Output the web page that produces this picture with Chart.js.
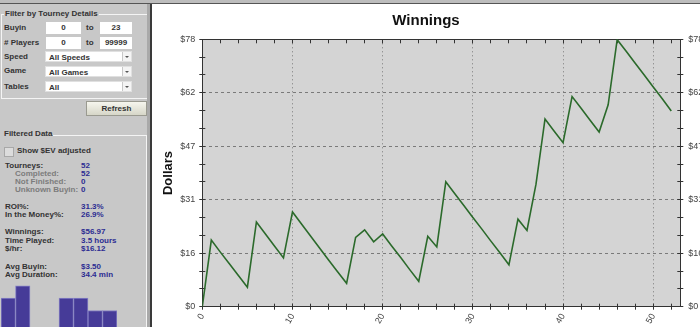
<!DOCTYPE html>
<html>
<head>
<meta charset="utf-8">
<script src="https://cdn.jsdelivr.net/npm/chart.js"></script>
<style>
  html, body { margin: 0; padding: 0; background: #fff; }
  #app {
    position: relative; width: 700px; height: 327px; overflow: hidden; background: #fff;
    font-family: "Liberation Sans", Arial, sans-serif; font-size: 8px; font-weight: bold; color: #333;
  }
  #topbar { position: absolute; left: 0; top: 0; width: 700px; height: 3px; background: #bdbdbd; border-bottom: 1px solid #555; }
  #side { position: absolute; left: 0; top: 4px; width: 147px; height: 323px; background: #c8c8c8; }
  #sideEdge { position: absolute; left: 147px; top: 0; width: 3px; height: 327px; background: #a9a9a9; }
  #sideLine { position: absolute; left: 150px; top: 0; width: 2px; height: 327px; background: #3a3a3a; }
  .fs { position: absolute; border: 1px solid #f4f4f4; }
  .t { position: absolute; line-height: 8px; white-space: nowrap; }
  .lg { background: #c8c8c8; padding: 0 1px; }
  .sub { color: #7c7c7c; }
  .val { color: #2c2c92; }
  .box { position: absolute; height: 12px; background: #fff; line-height: 12px; text-align: center; }
  .sel { position: absolute; height: 11px; background: #fff; line-height: 11px; padding-left: 3px; box-sizing: border-box; border: 1px solid #e0e0e0; }
  .sel .arr { position: absolute; right: 0; top: 0; width: 8px; height: 9px; border-left: 1px solid #c8c8c8; background: #f4f4f4; }
  .sel .arr:after { content: ""; position: absolute; left: 2px; top: 4px; border-left: 2px solid transparent; border-right: 2px solid transparent; border-top: 2px solid #555; }
  #refresh {
    position: absolute; left: 86px; top: 97px; width: 61px; height: 15px; box-sizing: border-box;
    border: 1px solid #9a9a90; background: linear-gradient(#f6f6ee, #d6d6c8); text-align: center; line-height: 13px;
  }
  #chk { position: absolute; left: 4px; top: 143px; width: 8px; height: 8px; background: #dcdcdc; border: 1px solid #a8a8a8; }
  #miniWrap { position: absolute; left: 1px; top: 280px; width: 116px; height: 47px; }
  #chartWrap { position: absolute; left: 152px; top: 4px; width: 548px; height: 323px; }
</style>
</head>
<body>
<div id="app">
  <div id="side">
    <div class="fs" style="left:1px; top:10px; width:145px; height:83px;"></div>
    <div class="t lg" style="left:4px; top:6px;">Filter by Tourney Details</div>
    <div class="t" style="left:4px; top:20px;">Buyin</div>
    <div class="box" style="left:46px; top:18px; width:35px;">0</div>
    <div class="t" style="left:86px; top:20px;">to</div>
    <div class="box" style="left:100px; top:18px; width:32px;">23</div>
    <div class="t" style="left:4px; top:35px;"># Players</div>
    <div class="box" style="left:46px; top:33px; width:35px;">0</div>
    <div class="t" style="left:86px; top:35px;">to</div>
    <div class="box" style="left:100px; top:33px; width:32px;">99999</div>
    <div class="t" style="left:4px; top:49px;">Speed</div>
    <div class="sel" style="left:45px; top:47px; width:87px;">All Speeds<span class="arr"></span></div>
    <div class="t" style="left:4px; top:63px;">Game</div>
    <div class="sel" style="left:45px; top:62px; width:87px;">All Games<span class="arr"></span></div>
    <div class="t" style="left:4px; top:79px;">Tables</div>
    <div class="sel" style="left:45px; top:77px; width:87px;">All<span class="arr"></span></div>
    <div id="refresh">Refresh</div>

    <div class="fs" style="left:1px; top:131px; width:145px; height:200px; border-left:none;"></div>
    <div class="t lg" style="left:1px; top:126px; padding-left:3px;">Filtered Data</div>
    <div id="chk"></div>
    <div class="t" style="left:17px; top:143px;">Show $EV adjusted</div>
    <div class="t" style="left:5px; top:158px;">Tourneys:</div><div class="t val" style="left:81px; top:158px;">52</div>
    <div class="t sub" style="left:15px; top:166px;">Completed:</div><div class="t val" style="left:81px; top:166px;">52</div>
    <div class="t sub" style="left:15px; top:174px;">Not Finished:</div><div class="t val" style="left:81px; top:174px;">0</div>
    <div class="t sub" style="left:15px; top:182px;">Unknown Buyin:</div><div class="t val" style="left:81px; top:182px;">0</div>
    <div class="t" style="left:5px; top:199px;">ROI%:</div><div class="t val" style="left:81px; top:199px;">31.3%</div>
    <div class="t" style="left:5px; top:207px;">In the Money%:</div><div class="t val" style="left:81px; top:207px;">26.9%</div>
    <div class="t" style="left:5px; top:224px;">Winnings:</div><div class="t val" style="left:81px; top:224px;">$56.97</div>
    <div class="t" style="left:5px; top:233px;">Time Played:</div><div class="t val" style="left:81px; top:233px;">3.5 hours</div>
    <div class="t" style="left:5px; top:241px;">$/hr:</div><div class="t val" style="left:81px; top:241px;">$16.12</div>
    <div class="t" style="left:5px; top:259px;">Avg Buyin:</div><div class="t val" style="left:81px; top:259px;">$3.50</div>
    <div class="t" style="left:5px; top:267px;">Avg Duration:</div><div class="t val" style="left:81px; top:267px;">34.4 min</div>
  </div>
  <div id="miniWrap"><canvas id="miniChart" width="116" height="47"></canvas></div>
  <div id="sideEdge"></div>
  <div id="sideLine"></div>
  <div id="topbar"></div>
  <div id="chartWrap"><canvas id="winChart" width="548" height="323"></canvas></div>
</div>

<script>
// cumulative winnings after each tourney (tourney 0 = start)
const winnings = [
  0, 19.4, 15.9, 12.5, 9.1, 5.7, 24.7, 21.2, 17.7, 14.2,
  27.6, 24.1, 20.6, 17.1, 13.6, 10.2, 6.8, 20.2, 22.4, 18.9,
  21.2, 17.7, 14.3, 10.8, 7.4, 20.5, 17.4, 36.4, 32.9, 29.5,
  26.0, 22.6, 19.1, 15.7, 12.2, 25.5, 22.2, 35.7, 54.7, 51.2,
  47.8, 61.2, 57.8, 54.3, 50.9, 58.8, 77.8, 74.4, 70.9, 67.5,
  64.0, 60.6, 57.0
];
const xMax = 53;
const xMinorStep = 2;
const xLabelTicks = [0, 10, 20, 30, 40, 50];
const yMax = 77.9;
const yTickLabels = ['$0', '$16', '$31', '$47', '$62', '$78'];
const yMinorPerMajor = 3;

// small histogram at the bottom of the side panel
const miniLabels = ['1', '2', '3', '4', '5', '6', '7', '8'];
const miniValues = [7, 10, 0, 0, 7, 7, 4, 4];

const xTickValues = [];
for (let v = 0; v < xMax; v += xMinorStep) xTickValues.push(v);
const ySteps = (yTickLabels.length - 1) * yMinorPerMajor;
const yTickValues = [];
for (let k = 0; k <= ySteps; k++) yTickValues.push(yMax * k / ySteps);

const tickFont = { family: 'Liberation Sans', size: 9 };
const setXTicks = s => { s.ticks = xTickValues.map(v => ({ value: v })); };
const setYTicks = s => { s.ticks = yTickValues.map(v => ({ value: v })); };

// zero-size axes that only draw the inner half of the tick marks
function innerAxis(pos, horizontal) {
  return {
    type: 'linear', position: pos, weight: -1, min: 0, max: horizontal ? xMax : yMax,
    afterBuildTicks: horizontal ? setXTicks : setYTicks,
    afterFit: s => { if (horizontal) s.height = 0; else s.width = 0; },
    ticks: { display: false },
    grid: { drawOnChartArea: false, tickColor: '#333', tickLength: -3 },
    border: { display: false }
  };
}

const plotBg = {
  id: 'plotBg',
  beforeDraw(chart) {
    const a = chart.chartArea;
    chart.ctx.save();
    chart.ctx.fillStyle = '#d4d4d4';
    chart.ctx.fillRect(a.left, a.top, a.right - a.left, a.bottom - a.top);
    chart.ctx.restore();
  }
};

new Chart(document.getElementById('winChart'), {
  type: 'line',
  data: {
    datasets: [{
      data: winnings.map((v, i) => ({ x: i, y: v })),
      borderColor: '#2b6a2b',
      borderWidth: 1.6,
      pointRadius: 0,
      tension: 0,
      fill: false
    }]
  },
  options: {
    responsive: false,
    animation: false,
    layout: { padding: 0 },
    plugins: {
      legend: { display: false },
      tooltip: { enabled: false },
      title: {
        display: true,
        text: 'Winnings',
        color: '#111',
        font: { family: 'Liberation Sans', size: 15, weight: 'bold' },
        padding: { top: 8, bottom: 0 }
      }
    },
    scales: {
      x: {
        type: 'linear', position: 'bottom', min: 0, max: xMax,
        afterBuildTicks: setXTicks,
        afterFit: s => { s.height = 20.3; },
        ticks: {
          autoSkip: false, minRotation: 60, maxRotation: 60, padding: 2,
          color: '#444', font: tickFont,
          callback: v => xLabelTicks.includes(v) ? String(v) : ''
        },
        grid: {
          color: c => (c.tick && xLabelTicks.includes(c.tick.value) && c.tick.value > 0) ? '#7a7a7a' : 'rgba(0,0,0,0)',
          tickColor: '#333', tickLength: 3, lineWidth: 1
        },
        border: { color: '#333', width: 1, dash: [1, 3] }
      },
      xIn: innerAxis('bottom', true),
      xTop: {
        type: 'linear', position: 'top', min: 0, max: xMax,
        afterBuildTicks: setXTicks,
        afterFit: s => { s.height = 9.3; },
        ticks: { display: false },
        grid: { drawOnChartArea: false, tickColor: '#333', tickLength: -4 },
        border: { color: '#333', width: 1 }
      },
      y: {
        type: 'linear', position: 'left', min: 0, max: yMax,
        afterBuildTicks: setYTicks,
        afterFit: s => { s.width = 50.3; },
        ticks: {
          autoSkip: false, padding: 4, color: '#444', font: tickFont,
          callback: (v, i) => i % yMinorPerMajor === 0 ? yTickLabels[i / yMinorPerMajor] : ''
        },
        grid: {
          color: c => (c.index % yMinorPerMajor === 0 && c.index > 0 && c.index < ySteps) ? '#7a7a7a' : 'rgba(0,0,0,0)',
          tickColor: '#333', tickLength: 3, lineWidth: 1
        },
        border: { color: '#333', width: 1, dash: [3, 3] },
        title: {
          display: true, text: 'Dollars', color: '#111',
          font: { family: 'Liberation Sans', size: 13, weight: 'bold' },
          padding: { top: 9, bottom: 0 }
        }
      },
      yIn: innerAxis('left', false),
      yRight: {
        type: 'linear', position: 'right', min: 0, max: yMax,
        afterBuildTicks: setYTicks,
        afterFit: s => { s.width = 19.7; },
        ticks: {
          autoSkip: false, padding: 5, color: '#444', font: tickFont,
          callback: (v, i) => i % yMinorPerMajor === 0 ? yTickLabels[i / yMinorPerMajor] : ''
        },
        grid: { drawOnChartArea: false, tickColor: '#333', tickLength: 3 },
        border: { color: '#333', width: 1 }
      },
      yRightIn: innerAxis('right', false)
    }
  },
  plugins: [plotBg]
});

new Chart(document.getElementById('miniChart'), {
  type: 'bar',
  data: {
    labels: miniLabels,
    datasets: [{
      data: miniValues,
      backgroundColor: '#463b98',
      borderColor: '#8580c4',
      borderWidth: 1,
      barPercentage: 1,
      categoryPercentage: 1
    }]
  },
  options: {
    responsive: false,
    animation: false,
    layout: { padding: 0 },
    plugins: { legend: { display: false }, tooltip: { enabled: false } },
    scales: {
      x: { display: false },
      y: { display: false, min: 0, max: 11.4 }
    }
  }
});
</script>
</body>
</html>
